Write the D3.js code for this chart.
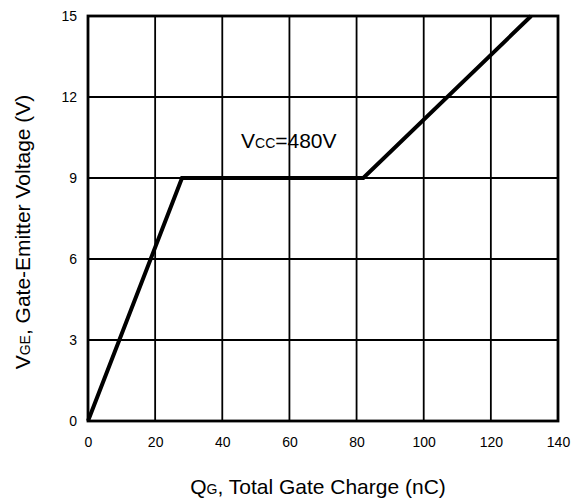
<!DOCTYPE html>
<html><head><meta charset="utf-8">
<script src="https://cdn.jsdelivr.net/npm/d3@7"></script>
<style>body{margin:0;background:#fff}text{font-family:Arial,"Liberation Sans",sans-serif}</style>
</head><body><svg id="c" width="581" height="499"></svg>
<script>
const xTicks=[0,20,40,60,80,100,120,140];
const yTicks=[0,3,6,9,12,15];
const chargeNC=[0,28,82,132];
const voltageV=[0,9,9,15];
const svg=d3.select("#c");
const L=88,R=558,T=16,B=421;
const x=d3.scaleLinear().domain([0,140]).range([L,R]);
const y=d3.scaleLinear().domain([0,15]).range([B,T]);
const g=svg.append("g");
g.selectAll(".vg").data(xTicks).join("line").attr("x1",d=>x(d)).attr("x2",d=>x(d)).attr("y1",T).attr("y2",B).attr("stroke","#000").attr("stroke-width",1.8);
g.selectAll(".hg").data(yTicks).join("line").attr("y1",d=>y(d)).attr("y2",d=>y(d)).attr("x1",L).attr("x2",R).attr("stroke","#000").attr("stroke-width",1.8);
g.append("rect").attr("x",L).attr("y",T).attr("width",R-L).attr("height",B-T).attr("fill","none").attr("stroke","#000").attr("stroke-width",2.8);
const xa=svg.append("g").attr("transform",`translate(0,${B})`).call(d3.axisBottom(x).tickValues(xTicks).tickSize(0).tickPadding(16).tickFormat(d3.format("d")));
xa.select(".domain").remove();
xa.selectAll("text").attr("font-size",14).attr("fill","#000").attr("font-family","Arial");
const ya=svg.append("g").attr("transform",`translate(${L},0)`).call(d3.axisLeft(y).tickValues(yTicks).tickSize(0).tickPadding(11).tickFormat(d3.format("d")));
ya.select(".domain").remove();
ya.selectAll("text").attr("font-size",14).attr("fill","#000").attr("font-family","Arial");
const line=d3.line().x((d,i)=>x(chargeNC[i])).y(d=>y(d));
svg.append("path").datum(voltageV).attr("d",line).attr("fill","none").attr("stroke","#000").attr("stroke-width",4).attr("stroke-linejoin","miter");
const ann=svg.append("text").attr("x",241).attr("y",148).attr("font-size",21);
ann.append("tspan").text("V");
ann.append("tspan").attr("font-size",14).text("CC");
ann.append("tspan").text("=480V");
const xt=svg.append("text").attr("x",318).attr("y",494).attr("text-anchor","middle").attr("font-size",21);
xt.append("tspan").text("Q");xt.append("tspan").attr("font-size",14).text("G");xt.append("tspan").text(", Total Gate Charge (nC)");
const yt=svg.append("text").attr("transform","translate(30,232) rotate(-90)").attr("text-anchor","middle").attr("font-size",21);
yt.append("tspan").text("V");yt.append("tspan").attr("font-size",14).text("GE");yt.append("tspan").text(", Gate-Emitter Voltage (V)");
</script></body></html>
